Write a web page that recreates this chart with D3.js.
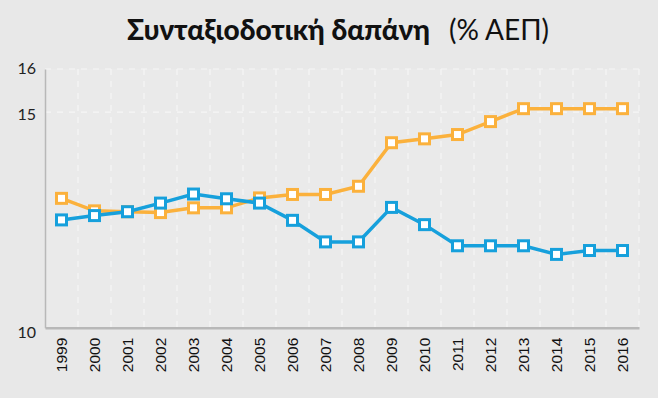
<!DOCTYPE html>
<html>
<head>
<meta charset="utf-8">
<script src="https://cdn.jsdelivr.net/npm/d3@7"></script>
<style>
  body { margin: 0; background: #e8e8e8; }
  svg { display: block; }
</style>
</head>
<body>
<script>
const years = ['1999','2000','2001','2002','2003','2004','2005','2006','2007','2008',
  '2009','2010','2011','2012','2013','2014','2015','2016']
const orangeVals = [13.0, 12.71, 12.69, 12.67, 12.78, 12.78, 13.01, 13.09, 13.09, 13.28,
  14.29, 14.38, 14.48, 14.78, 15.08, 15.08, 15.08, 15.08]
const blueVals = [12.5, 12.6, 12.69, 12.89, 13.1, 12.99, 12.89, 12.49, 11.99, 11.99,
  12.79, 12.39, 11.9, 11.9, 11.9, 11.7, 11.79, 11.79]
const yTicks = [10, 15, 16]

const box = { width: 658, height: 398, left: 45, right: 639, top: 69, bottom: 327.7 }

const svg = d3.select('body').append('svg')
  .attr('width', box.width).attr('height', box.height)

svg.append('rect').attr('width', box.width).attr('height', box.height).attr('fill', '#e8e8e8')
svg.append('rect')
  .attr('x', box.left).attr('y', box.top)
  .attr('width', box.right - box.left).attr('height', box.bottom - box.top)
  .attr('fill', '#eaeaea')

const x = d3.scaleBand().domain(years).range([box.left, box.right])
const y = d3.scaleLinear().domain([10, 16]).range([box.bottom, box.top])

// grid
const grid = svg.append('g').classed('grid', true)
grid.selectAll('line.v')
  .data(years.slice(1).concat(['end']))
  .join('line').attr('class', 'v')
  .attr('x1', d => d === 'end' ? box.right : x(d))
  .attr('x2', d => d === 'end' ? box.right : x(d))
  .attr('y1', box.top).attr('y2', box.bottom)
  .attr('stroke', '#f6f6f6').attr('stroke-width', 1.2).attr('stroke-dasharray', '6,6')
grid.selectAll('line.h')
  .data(yTicks.filter(d => d > 10))
  .join('line').attr('class', 'h')
  .attr('x1', box.left).attr('x2', box.right)
  .attr('y1', d => y(d)).attr('y2', d => y(d))
  .attr('stroke', '#f6f6f6').attr('stroke-width', 1.2).attr('stroke-dasharray', '6,6')

// axes
const yAxis = svg.append('g').classed('yaxis', true)
  .attr('transform', `translate(${box.left},0)`)
  .call(d3.axisLeft(y).tickValues(yTicks).tickFormat(d3.format('d')).tickSize(0).tickPadding(9))
yAxis.select('.domain').attr('stroke', '#b8b8b8').attr('stroke-width', 1.5)
yAxis.selectAll('text')
  .style('font-family', 'Lato, sans-serif')
  .style('font-size', '16px').attr('fill', '#222')
  .attr('dy', (d) => d === 10 ? '0.6em' : d === 15 ? '0.45em' : '0.3em')

const xAxis = svg.append('g').classed('xaxis', true)
  .attr('transform', `translate(0,${box.bottom})`)
  .call(d3.axisBottom(x).tickSize(0).tickPadding(0))
xAxis.select('.domain').attr('stroke', '#b8b8b8').attr('stroke-width', 2.5)
xAxis.selectAll('text')
  .style('font-family', 'Liberation Sans, Arial, sans-serif')
  .style('font-size', '15.5px').attr('fill', '#111')
  .attr('text-anchor', 'end')
  .attr('transform', 'rotate(-90)')
  .attr('x', -10).attr('y', 0).attr('dy', '0.35em')

// lines
const cx = d => x(d) + x.bandwidth() / 2
function drawSeries(vals, color) {
  const line = d3.line().x((d, i) => cx(years[i])).y(d => y(d))
  const g = svg.append('g')
  g.append('path').attr('d', line(vals))
    .attr('fill', 'none').attr('stroke', color).attr('stroke-width', 3.5)
  g.selectAll('rect').data(vals).join('rect')
    .attr('x', (d, i) => cx(years[i]) - 5)
    .attr('y', d => y(d) - 5)
    .attr('width', 10).attr('height', 10)
    .attr('fill', '#fff').attr('stroke', color).attr('stroke-width', 3)
}
drawSeries(orangeVals, '#fbb13c')
drawSeries(blueVals, '#16a0dc')

// title
const title = svg.append('text')
  .attr('x', 338).attr('y', 40).attr('text-anchor', 'middle')
  .attr('font-family', 'Lato, Noto Sans, sans-serif').attr('font-size', 28).attr('fill', '#111')
title.append('tspan').attr('font-weight', 900).text('Συνταξιοδοτική δαπάνη')
title.append('tspan').attr('font-weight', 'normal').attr('dx', 19).text('(% ΑΕΠ)')
</script>
</body>
</html>
